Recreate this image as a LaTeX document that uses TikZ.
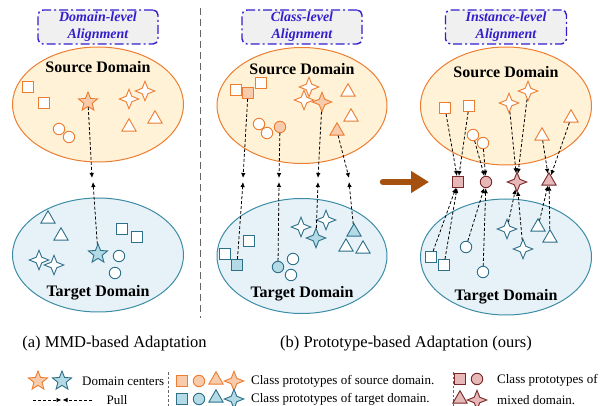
\documentclass[tikz,border=0pt]{standalone}
\usepackage{fontspec}
\setmainfont{Liberation Serif}
\usetikzlibrary{shapes.geometric,arrows.meta}
\definecolor{orng}{RGB}{237,125,49}
\definecolor{orngfill}{RGB}{248,203,173}
\definecolor{srcbg}{RGB}{255,242,214}
\definecolor{tealdk}{RGB}{46,112,138}
\definecolor{tealfill}{RGB}{180,218,230}
\definecolor{tgtbg}{RGB}{230,242,248}
\definecolor{tgtline}{RGB}{60,140,165}
\definecolor{mixdk}{RGB}{120,40,40}
\definecolor{mixfill}{RGB}{230,184,184}
\definecolor{ttl}{RGB}{50,30,205}
\definecolor{brwn}{RGB}{165,80,15}
\tikzset{
  shp/.style={inner sep=0pt, line width=0.9pt, draw},
  sq/.style={shp, rectangle, minimum width=11pt, minimum height=11pt},
  ci/.style={shp, circle, minimum size=11.5pt},
  tr/.style={shp, regular polygon, regular polygon sides=3, minimum size=16.5pt},
  sf/.style={shp, star, star points=4, star point ratio=2.5, minimum size=19.5pt},
  sv/.style={shp, star, star points=5, star point ratio=2.3, minimum size=20pt},
  S/.style={draw=orng, fill=white},
  SF/.style={draw=orng, fill=orngfill},
  T/.style={draw=tealdk, fill=white},
  TF/.style={draw=tealdk, fill=tealfill},
  M/.style={draw=mixdk, fill=mixfill},
  pull/.style={dash pattern=on 3pt off 2pt, line width=0.8pt, -{Latex[length=5pt,width=4.5pt]}},
  titlebox/.style={draw=ttl, fill=gray!12, rounded corners=5pt, dash pattern=on 9pt off 3pt on 2pt off 3pt, line width=1.4pt, minimum width=120pt, minimum height=34pt, align=center, text=ttl, font=\fontsize{14}{17}\selectfont\bfseries\itshape, inner sep=1pt},
  dom/.style={font=\fontsize{16}{18}\selectfont\bfseries, inner sep=0pt},
  srcell/.style={ellipse, draw=orng, fill=srcbg, line width=1pt, inner sep=0pt},
  tgtell/.style={ellipse, draw=tgtline, fill=tgtbg, line width=1pt, inner sep=0pt},
  capt/.style={font=\fontsize{16.5}{19}\selectfont, inner sep=0pt},
  leg/.style={font=\fontsize{13}{15}\selectfont, inner sep=0pt, anchor=west},
  sepline/.style={draw=gray!80!black, line width=1pt, dash pattern=on 7pt off 4pt},
  lsep/.style={draw=gray!80!black, line width=0.9pt, dash pattern=on 2.5pt off 2pt},
  bigarrow/.style={draw=brwn, line width=6.5pt, line cap=round, -{Triangle[length=18pt,width=21pt]}},
}
\begin{document}
\begin{tikzpicture}[x=1pt,y=-1pt]
\useasboundingbox (0,0) rectangle (611,406);

% ---------------- Panel (a) ----------------
\node[titlebox] (ttl1) at (98,27) {Domain-level\\Alignment};
\node[srcell, minimum width=171pt, minimum height=115pt] (se1) at (98,104.5) {};
\node[dom] (sl1) at (98,67) {Source Domain};
\node[tgtell, minimum width=171pt, minimum height=114pt] (te1) at (98,255) {};
\node[dom] (tl1) at (98,293) {Target Domain};

\node[sq,S] (s1sq1) at (28,87) {};
\node[sq,S] (s1sq2) at (44,103) {};
\node[sv,SF] (s1star) at (88,102) {};
\node[ci,S] (s1c1) at (59,129) {};
\node[ci,S] (s1c2) at (69,137) {};
\node[sf,S] (s1s4a) at (129,99) {};
\node[sf,S] (s1s4b) at (145,91) {};
\node[tr,S] (s1t1) at (129,127) {};
\node[tr,S] (s1t2) at (155,119) {};

\node[tr,T] (t1t1) at (48,219) {};
\node[tr,T] (t1t2) at (61,236) {};
\node[sf,T] (t1s4a) at (39,260) {};
\node[sf,T] (t1s4b) at (54,265) {};
\node[sv,TF] (t1star) at (98,254) {};
\node[sq,T] (t1sq1) at (122,229) {};
\node[sq,T] (t1sq2) at (137,237) {};
\node[ci,T] (t1c1) at (119,256) {};
\node[ci,T] (t1c2) at (115,273) {};

\coordinate (m1a) at (92,178);
\coordinate (m1b) at (93,182);
\draw[pull] (s1star) -- (m1a);
\draw[pull] (t1star) -- (m1b);

% separator
\coordinate (sepT) at (200,8);
\coordinate (sepB) at (200,318);
\draw[sepline] (sepT) -- (sepB);

% ---------------- Panel (b) class-level ----------------
\node[titlebox] (ttl2) at (302,27) {Class-level\\Alignment};
\node[srcell, minimum width=170pt, minimum height=116pt] (se2) at (302,105.5) {};
\node[dom] (sl2) at (302,69) {Source Domain};
\node[tgtell, minimum width=170pt, minimum height=115pt] (te2) at (302,256) {};
\node[dom] (tl2) at (302,294) {Target Domain};

\node[sq,S] (s2sq1) at (236,90) {};
\node[sq,SF] (s2sqf) at (248,93) {};
\node[sq,S] (s2sq2) at (261,83) {};
\node[ci,S] (s2c1) at (259,124) {};
\node[ci,S] (s2c2) at (267,133) {};
\node[ci,SF] (s2cf) at (280,127) {};
\node[sf,S] (s2s4a) at (309,87) {};
\node[sf,S] (s2s4b) at (304,100) {};
\node[sf,SF] (s2s4f) at (322,102) {};
\node[tr,S] (s2t1) at (348,92) {};
\node[tr,S] (s2t2) at (351,117) {};
\node[tr,SF] (s2tf) at (337,131) {};

\node[sq,T] (t2sq1) at (249,241) {};
\node[sq,T] (t2sq2) at (225,254) {};
\node[sq,TF] (t2sqf) at (237,265) {};
\node[ci,TF] (t2cf) at (278,267) {};
\node[ci,T] (t2c1) at (293,259) {};
\node[ci,T] (t2c2) at (291,275) {};
\node[sf,T] (t2s4a) at (301,227) {};
\node[sf,T] (t2s4b) at (326,220) {};
\node[sf,TF] (t2s4f) at (316,238) {};
\node[tr,TF] (t2tf) at (354,232) {};
\node[tr,T] (t2t1) at (346,247) {};
\node[tr,T] (t2t2) at (363,249) {};

\coordinate (p2aU) at (243,178);
\coordinate (p2aD) at (243,182);
\coordinate (p2bU) at (279,178);
\coordinate (p2bD) at (279,182);
\coordinate (p2cU) at (318,178);
\coordinate (p2cD) at (318,182);
\coordinate (p2dU) at (349,178);
\coordinate (p2dD) at (349,182);
\draw[pull] (s2sqf) -- (p2aU);
\draw[pull] (t2sqf) -- (p2aD);
\draw[pull] (s2cf) -- (p2bU);
\draw[pull] (t2cf) -- (p2bD);
\draw[pull] (s2s4f) -- (p2cU);
\draw[pull] (t2s4f) -- (p2cD);
\draw[pull] (s2tf) -- (p2dU);
\draw[pull] (t2tf) -- (p2dD);

% big arrow
\coordinate (ba1) at (383,182);
\coordinate (ba2) at (429,182);
\draw[bigarrow] (ba1) -- (ba2);

% ---------------- Panel (b) instance-level ----------------
\node[titlebox, minimum width=121pt] (ttl3) at (506,27) {Instance-level\\Alignment};
\node[srcell, minimum width=171pt, minimum height=118pt] (se3) at (506,106) {};
\node[dom] (sl3) at (506,72) {Source Domain};
\node[tgtell, minimum width=171pt, minimum height=116pt] (te3) at (506,257) {};
\node[dom] (tl3) at (506,297) {Target Domain};

\node[sq,S] (s3sq1) at (445,108) {};
\node[sq,S] (s3sq2) at (469,106) {};
\node[ci,S] (s3c1) at (473,135) {};
\node[ci,S] (s3c2) at (483,143) {};
\node[sf,S] (s3s4a) at (509,103) {};
\node[sf,S] (s3s4b) at (528,91) {};
\node[tr,S] (s3t1) at (542,136) {};
\node[tr,S] (s3t2) at (571,118) {};

\node[sq,M] (mixsq) at (458,182) {};
\node[ci,M] (mixc) at (486,182) {};
\node[sf,M] (mixs4) at (517,182) {};
\node[tr,M] (mixt) at (549,181) {};

\node[sq,T] (t3sq1) at (431,257) {};
\node[sq,T] (t3sq2) at (444,265) {};
\node[ci,T] (t3c1) at (466,247) {};
\node[ci,T] (t3c2) at (483,272) {};
\node[sf,T] (t3s4a) at (507,229) {};
\node[sf,T] (t3s4b) at (523,249) {};
\node[tr,T] (t3t1) at (538,227) {};
\node[tr,T] (t3t2) at (550,238) {};

\draw[pull] (s3sq1) -- (mixsq);
\draw[pull] (s3sq2) -- (mixsq);
\draw[pull] (t3sq1) -- (mixsq);
\draw[pull] (t3sq2) -- (mixsq);
\draw[pull] (s3c1) -- (mixc);
\draw[pull] (s3c2) -- (mixc);
\draw[pull] (t3c1) -- (mixc);
\draw[pull] (t3c2) -- (mixc);
\draw[pull] (s3s4a) -- (mixs4);
\draw[pull] (s3s4b) -- (mixs4);
\draw[pull] (t3s4a) -- (mixs4);
\draw[pull] (t3s4b) -- (mixs4);
\draw[pull] (s3t1) -- (mixt);
\draw[pull] (s3t2) -- (mixt);
\draw[pull] (t3t1) -- (mixt);
\draw[pull] (t3t2) -- (mixt);

% captions
\node[capt] (capa) at (114.5,344) {(a) MMD-based Adaptation};
\node[capt] (capb) at (406,344) {(b) Prototype-based Adaptation (ours)};

% ---------------- Legend ----------------
\node[sv,SF] (lgst1) at (38,381) {};
\node[sv,TF] (lgst2) at (62,381) {};
\node[leg] (lgdc) at (82,381) {Domain centers};
\coordinate (lp1) at (33,400);
\coordinate (lp2) at (92,400);
\coordinate (lpmL) at (61.5,400);
\coordinate (lpmR) at (62.5,400);
\draw[pull] (lp1) -- (lpmL);
\draw[pull] (lp2) -- (lpmR);
\node[leg, anchor=center] (lgpull) at (117,400) {Pull};

\coordinate (ls1T) at (168,372);
\coordinate (ls1B) at (168,406);
\draw[lsep] (ls1T) -- (ls1B);

\node[sq,SF] (lgsq1) at (182,381) {};
\node[ci,SF] (lgc1) at (199,381) {};
\node[tr,SF] (lgt1) at (216,380) {};
\node[sf,SF] (lgs1) at (234,381) {};
\node[leg] (lgsrc) at (251,381) {Class prototypes of source domain.};
\node[sq,TF] (lgsq2) at (182,399) {};
\node[ci,TF] (lgc2) at (199,399) {};
\node[tr,TF] (lgt2) at (216,398) {};
\node[sf,TF] (lgs2) at (234,399) {};
\node[leg] (lgtgt) at (251,399.5) {Class prototypes of target domain.};

\coordinate (ls2T) at (453,372);
\coordinate (ls2B) at (453,406);
\draw[lsep] (ls2T) -- (ls2B);

\node[sq,M] (lgm1) at (460,379) {};
\node[ci,M] (lgm2) at (477,379) {};
\node[tr,M] (lgm3) at (460,399) {};
\node[sf,M] (lgm4) at (477,400) {};
\node[leg] (lgmix1) at (497,380) {Class prototypes of};
\node[leg] (lgmix2) at (497,400) {mixed domain.};
\end{tikzpicture}
\end{document}
